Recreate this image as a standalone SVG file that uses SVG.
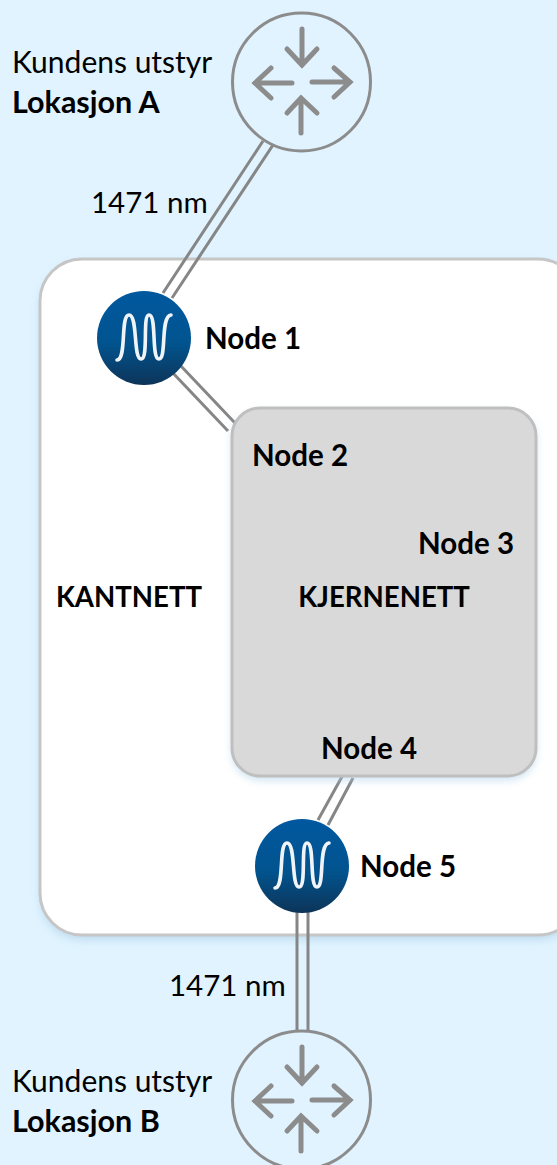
<svg xmlns="http://www.w3.org/2000/svg" width="557" height="1165" viewBox="0 0 557 1165">
<style>
text{font-family:Lato,"Open Sans","Liberation Sans",sans-serif;font-size:29.5px;fill:#000}
.b{font-weight:700}
.c{font-size:27.6px}
.l{font-size:30.5px}
.k{font-size:30px}
.link{stroke:#868686;stroke-width:3;fill:none}
.ring{fill:#e0f3ff;stroke:#8c8c8c;stroke-width:3}
.ar{stroke:#8c8c8c;stroke-width:5;fill:none;stroke-linecap:round;stroke-linejoin:miter}
.w{fill:none;stroke:#f0f4f8;stroke-width:3.6;stroke-linecap:round}
</style>
<defs>
<linearGradient id="ng" x1="0" y1="0" x2="0" y2="1"><stop offset="0" stop-color="#01589f"/><stop offset=".55" stop-color="#01548f"/><stop offset="1" stop-color="#0d3458"/></linearGradient>
<filter id="soft" x="-10%" y="-10%" width="120%" height="120%"><feGaussianBlur stdDeviation="4"/></filter>
<g id="arrows">
<path class="ar" d="M0-53V-17M-15-33L0-17L15-33"/>
<path class="ar" d="M-1 51V16M-15 31L-1 16L15 31"/>
<path class="ar" d="M-10 1H-47M-31-14L-47 1L-31 16"/>
<path class="ar" d="M10 0H48M32-14L48 0L32 15"/>
</g>
<path id="wave" class="w" d="M-27 22C-17 22-24-23-15-23C-6-23-11 21-3 21C5 21-2-23 5-23C13-23 7 21 15 21C23 21 16-22 27-23"/>
</defs>
<rect width="557" height="1165" fill="#e0f3ff"/>
<g id="kantnett">
<rect x="40" y="259" width="540" height="676" rx="42" fill="#9ec6e0" opacity=".5" filter="url(#soft)" transform="translate(0 5)"/>
<rect x="40" y="259" width="540" height="676" rx="42" fill="#fff" stroke="#c6c6c6" stroke-width="3"/>
<text class="b c" x="129" y="607" text-anchor="middle">KANTNETT</text>
</g>
<g id="connectors">
<path class="link" d="M163 293L263 141M172 298L273 145"/>
<path class="link" d="M172 372L228 431M180 365L235 423"/>
<path class="link" d="M318 820L344 773M328 825L353 778"/>
<path class="link" d="M297 910V1032M308 910V1032"/>
</g>
<g id="kjernenett">
<rect x="232" y="408" width="304" height="368" rx="28" fill="#a8cfe8" opacity=".6" filter="url(#soft)" transform="translate(0 4)"/>
<rect x="232" y="408" width="304" height="368" rx="28" fill="#d9d9d9" stroke="#bfbfbf" stroke-width="3"/>
<text class="b c" x="384" y="607" text-anchor="middle">KJERNENETT</text>
</g>
<g id="node1"><circle cx="144" cy="338" r="47" fill="url(#ng)"/><use href="#wave" x="144" y="338"/><text class="b" x="205" y="348.5">Node 1</text></g>
<g id="node2"><text class="b" x="252" y="465.5">Node 2</text></g>
<g id="node3"><text class="b" x="418" y="553.5">Node 3</text></g>
<g id="node4"><text class="b" x="321" y="758.5">Node 4</text></g>
<g id="node5"><circle cx="302" cy="866" r="47" fill="url(#ng)"/><use href="#wave" x="302" y="866"/><text class="b" x="360" y="876.5">Node 5</text></g>
<g id="lokasjon-a"><circle cx="301.5" cy="82" r="69" class="ring"/><use href="#arrows" x="302" y="82"/><text class="k" x="12" y="72.5">Kundens utstyr</text><text class="b l" x="12" y="112.5">Lokasjon A</text></g>
<g id="lokasjon-b"><circle cx="301.5" cy="1100" r="69" class="ring"/><use href="#arrows" x="302" y="1100"/><text class="k" x="12" y="1091.5">Kundens utstyr</text><text class="b l" x="12" y="1131.5">Lokasjon B</text></g>
<g id="labels"><text x="91" y="212.5">1471 nm</text><text x="169" y="995.5">1471 nm</text></g>
</svg>
